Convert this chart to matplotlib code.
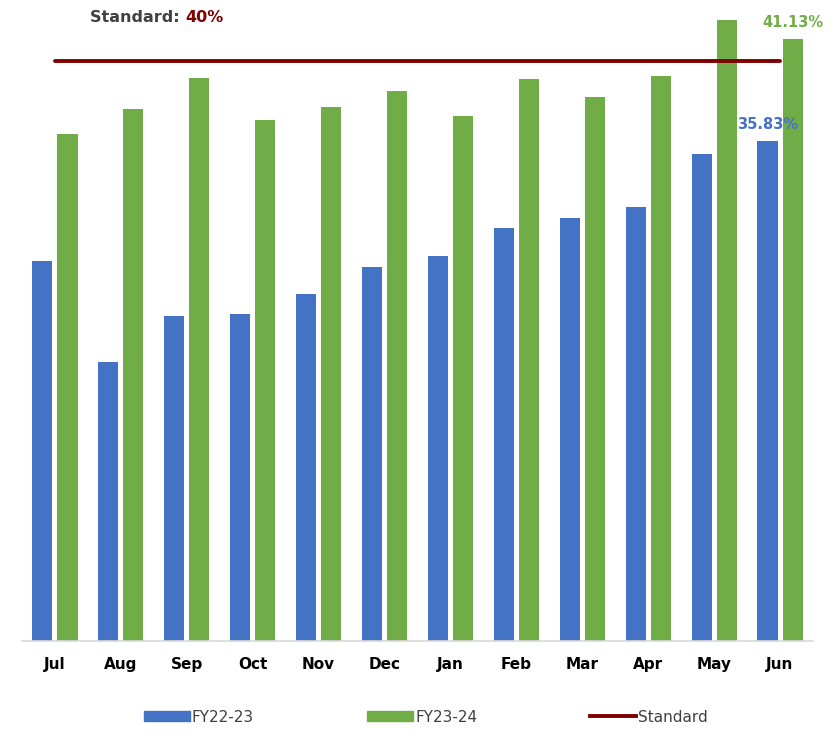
import matplotlib
matplotlib.use("Agg")
import matplotlib.pyplot as plt
import numpy as np
from matplotlib.lines import Line2D
from matplotlib.patches import Patch

months = ["Jul", "Aug", "Sep", "Oct", "Nov", "Dec", "Jan", "Feb", "Mar", "Apr", "May", "Jun"]
fy2223 = [29.65, 24.39, 26.79, 26.87, 27.93, 29.32, 29.89, 31.34, 31.85, 32.45, 35.17, 35.83]
fy2324 = [36.21, 37.50, 39.08, 36.93, 37.60, 38.41, 37.12, 39.03, 38.12, 39.22, 42.10, 41.13]
standard = [40] * 12

blue = "#4472C4"
green = "#70AD47"
red = "#7F0000"

plt.rcParams['font.family'] = ['DejaVu Sans']

fig = plt.figure(figsize=(8.30, 7.31), dpi=100)
ax = fig.add_axes([22/830, 1 - 640.7/731, (813-22)/830, (640.7-12)/731])

x = np.arange(len(months))
w = 0.305
off = 0.19
ax.bar(x - off, fy2223, w, color=blue, zorder=2)
ax.bar(x + off, fy2324, w, color=green, zorder=2)
ax.plot(x, standard, color=red, lw=2.8, solid_capstyle='round', zorder=3)

ax.set_xlim(-0.5, 11.5)
ax.set_ylim(10, 42.51)

for s in ["top", "right", "left"]:
    ax.spines[s].set_visible(False)
ax.spines["bottom"].set_color("#D9D9D9")
ax.spines["bottom"].set_linewidth(1.2)
ax.set_yticks([])
ax.set_xticks(x)
ax.set_xticklabels(months, fontsize=11, fontweight='bold', color='black')
ax.tick_params(axis='x', length=0, pad=12)

ax.text(x[-1] - off, fy2223[-1] + 0.45, f"{fy2223[-1]:.2f}%", ha='center', va='bottom',
        color=blue, fontsize=10.5, fontweight='bold')
ax.text(x[-1] + off, fy2324[-1] + 0.45, f"{fy2324[-1]:.2f}%", ha='center', va='bottom',
        color=green, fontsize=10.5, fontweight='bold')

t1 = fig.text(90/830, 1 - 17/731, "Standard: ", ha='left', va='center', color="#404040",
              fontsize=11.5, fontweight='bold')
fig.canvas.draw()
r = fig.canvas.get_renderer()
bb = t1.get_window_extent(renderer=r)
fig.text(bb.x1 / 830, 1 - 17/731, "40%", ha='left', va='center', color=red,
         fontsize=11.5, fontweight='bold')

handles = [Patch(color=blue), Patch(color=green), Line2D([0], [0], color=red, lw=2.8)]
labels = ["FY22-23", "FY23-24", "Standard"]
fig.legend(handles, labels, loc='center', bbox_to_anchor=(426/830, 1 - 717/731), ncol=3,
           frameon=False, fontsize=11, handlelength=3.0, handleheight=0.55,
           handletextpad=0.15, columnspacing=7.4, labelcolor="#404040")

fig.savefig("out.png", dpi=100)
